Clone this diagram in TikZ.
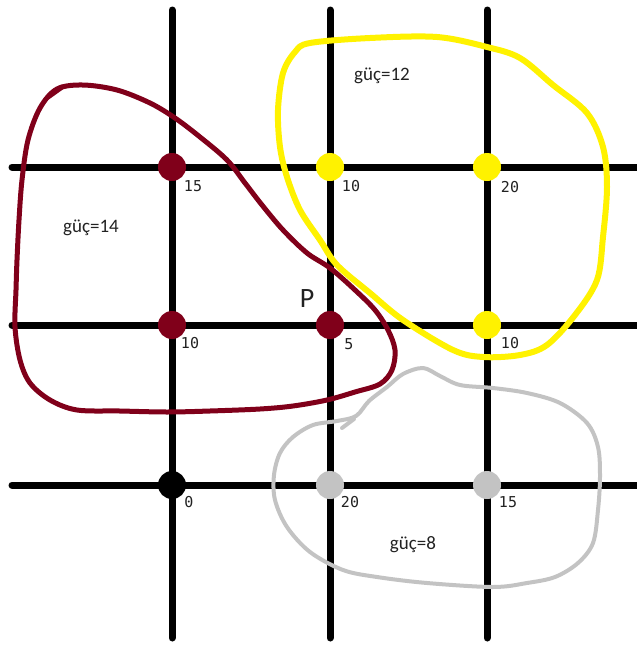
\documentclass[tikz,border=0pt]{standalone}
\usepackage{fontspec}
\setmainfont{Carlito}
\newfontfamily\monof{DejaVu Sans Mono}
\definecolor{maroonc}{HTML}{80001A}
\definecolor{yelc}{HTML}{FFF200}
\definecolor{grayc}{HTML}{C3C3C3}
\definecolor{txtc}{HTML}{222222}
\tikzset{
  gridline/.style={line width=7pt, line cap=round, black},
  dot/.style={circle, inner sep=0pt, minimum size=28pt, fill=#1},
  num/.style={font=\monof\fontsize{15}{15}\selectfont, text=txtc, inner sep=0pt},
  power/.style={font=\fontsize{19}{19}\selectfont, text=txtc, inner sep=0pt},
  blob/.style={line width=#1, line cap=round, line join=round},
}
\begin{document}
\begin{tikzpicture}[x=1pt,y=-1pt]
\useasboundingbox (0,0) rectangle (637,646);
% grid end points
\coordinate (vt1) at (172,10); \coordinate (vb1) at (172,638);
\coordinate (vt2) at (330,10); \coordinate (vb2) at (330,638);
\coordinate (vt3) at (487,10); \coordinate (vb3) at (487,638);
\coordinate (hl1) at (12,167); \coordinate (hr1) at (640,167);
\coordinate (hl2) at (12,325); \coordinate (hr2) at (640,325);
\coordinate (hl3) at (12,485); \coordinate (hr3) at (640,485);
\draw[gridline] (vt1) -- (vb1);
\draw[gridline] (vt2) -- (vb2);
\draw[gridline] (vt3) -- (vb3);
\draw[gridline] (hl1) -- (hr1);
\draw[gridline] (hl2) -- (hr2);
\draw[gridline] (hl3) -- (hr3);
% red blob
\draw[blob=5pt, maroonc] plot[smooth cycle, tension=0.55] coordinates {
 (57,89) (83,85) (117,90) (150,103) (175,118) (200,137) (227,160) (245,183)
 (262,205) (283,230) (307,253) (330,268) (355,290) (375,310) (388,330) (395,350)
 (392,370) (380,384) (355,392) (327,400) (293,406) (260,409) (210,411) (167,412)
 (120,411) (77,410) (50,400) (30,383) (20,360) (15,327) (16,290) (17,260)
 (19,220) (22,180) (28,140) (40,108)};
\coordinate (rt1) at (48,97); \coordinate (rt2) at (62,87);
\draw[blob=5pt, maroonc] (rt1) -- (rt2);
% yellow blob
\draw[blob=6pt, yelc] plot[smooth cycle, tension=0.55] coordinates {
 (310,43) (370,38) (437,37) (487,47) (520,58) (553,85) (587,113) (603,147)
 (607,187) (603,237) (597,280) (575,315) (547,345) (520,355) (483,357) (453,350)
 (403,320) (370,293) (337,265) (320,240) (300,210) (287,177) (280,147) (278,110)
 (283,73) (295,52)};
% gray blob
\draw[blob=4pt, grayc] plot[smooth cycle, tension=0.55] coordinates {
 (356,416) (369,401) (387,387) (403,374) (423,368) (440,376) (460,385) (493,388)
 (527,393) (560,403) (587,423) (598,447) (600,477) (598,510) (593,543) (578,563)
 (555,577) (527,583) (493,587) (427,583) (377,577) (343,570) (310,552) (287,527)
 (275,500) (274,475) (280,453) (293,437) (313,425) (337,421)};
\coordinate (gt1) at (354,419); \coordinate (gt2) at (342,428);
\draw[blob=4pt, grayc] (gt1) -- (gt2);
% dots
\node[dot=maroonc] (d11) at (172,167) {};
\node[dot=yelc] (d12) at (330,167) {};
\node[dot=yelc] (d13) at (487,167) {};
\node[dot=maroonc] (d21) at (172,325) {};
\node[dot=maroonc] (d22) at (330,325) {};
\node[dot=yelc] (d23) at (487,325) {};
\node[dot=black] (d31) at (172,485) {};
\node[dot=grayc] (d32) at (330,485) {};
\node[dot=grayc] (d33) at (487,485) {};
% values
\node[num] (n11) at (193,186) {15};
\node[num] (n12) at (351,186) {10};
\node[num] (n13) at (510,187) {20};
\node[num] (n21) at (190,343) {10};
\node[num] (n22) at (349,344) {5};
\node[num] (n23) at (510,343) {10};
\node[num] (n31) at (189,502) {0};
\node[num] (n32) at (350,502) {20};
\node[num] (n33) at (508,502) {15};
% powers
\node[power] (p1) at (91,228) {güç=14};
\node[power] (p2) at (382,76) {güç=12};
\node[power] (p3) at (413,545) {güç=8};
\node[font=\fontsize{28}{28}\selectfont, text=txtc, inner sep=0pt] (P) at (307,299) {P};
\end{tikzpicture}
\end{document}
